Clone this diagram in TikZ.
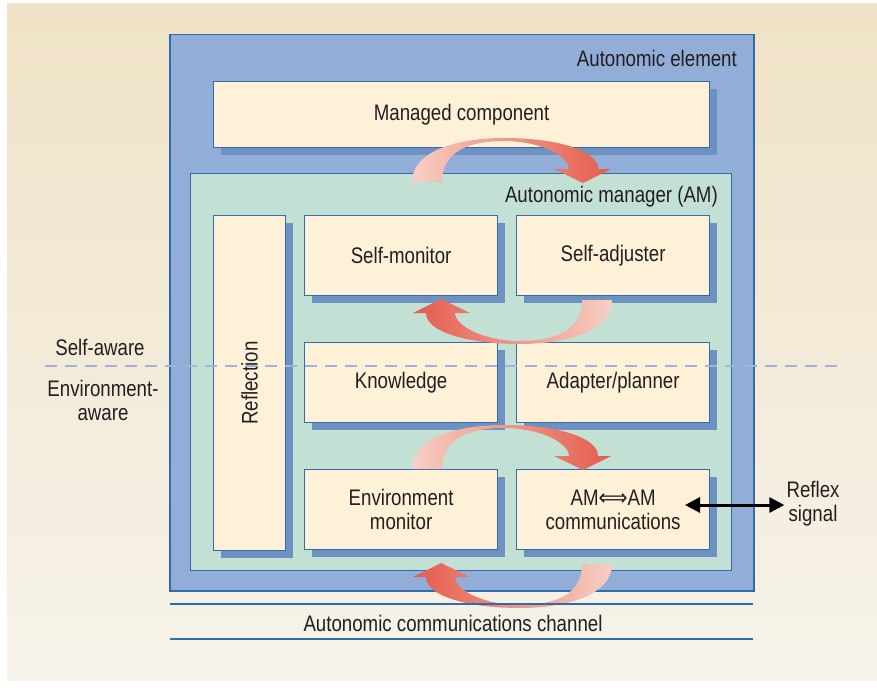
\documentclass[tikz,border=0pt]{standalone}
\usepackage{fontspec}
\setmainfont[FakeStretch=0.83]{Liberation Sans}
\newfontfamily\symfont[FakeStretch=0.9]{DejaVu Sans}
\usetikzlibrary{arrows.meta,shadows}
\definecolor{bgtop}{HTML}{EFE2C6}
\definecolor{bgbot}{HTML}{F7F3EA}
\definecolor{aefill}{HTML}{92ADD7}
\definecolor{edge}{HTML}{2E6DAA}
\definecolor{amfill}{HTML}{C3E0D5}
\definecolor{boxfill}{HTML}{FFF0D8}
\definecolor{shadowc}{HTML}{6D92C1}
\definecolor{txtc}{HTML}{231F20}
\definecolor{dashc}{HTML}{9FB3DB}
\definecolor{arred}{HTML}{E45B4B}
\definecolor{arlight}{HTML}{F7CFC4}
\tikzset{
  txt/.style={text=txtc, font=\fontsize{22.5}{24}\selectfont, inner sep=2pt},
  aebox/.style={draw=edge, line width=1.5pt, fill=aefill, inner sep=0pt, anchor=north west},
  ambox/.style={draw=edge, line width=1.3pt, fill=amfill, inner sep=0pt, anchor=north west},
  cbox/.style={draw=edge, line width=1.2pt, fill=boxfill, inner sep=0pt, anchor=north west,
    drop shadow={shadow xshift=7pt, shadow yshift=-7pt, fill=shadowc, opacity=1},
    minimum width=193pt, minimum height=80pt, align=center, text=txtc,
    font=\fontsize{22.5}{24}\selectfont},
  dashline/.style={draw=dashc, line width=2.6pt, dash pattern=on 12pt off 8pt},
  chanline/.style={draw=edge, line width=1.3pt},
  reflexarrow/.style={line width=3pt, black, {Triangle[length=15pt,width=15pt]}-{Triangle[length=15pt,width=15pt]}},
}
\newcommand{\bigarrowpath}{(412,182) .. controls (412,152) and (455,138) .. (504,138) .. controls (556,138) and (598,150) .. (598,169) -- (611,169) -- (583,183) -- (554,169) -- (569,169) .. controls (569,156) and (540,141) .. (504,141) .. controls (468,141) and (442,152) .. (442,182) -- cycle}
\begin{document}
\begin{tikzpicture}[x=1pt,y=-1pt]
\useasboundingbox (0,0) rectangle (877,690);
\shade[top color=bgtop,bottom color=bgbot] (7,4) rectangle (877,680);
% autonomic element
\node[aebox, minimum width=584pt, minimum height=556pt] (ae) at (169,34) {};
\node[txt, anchor=east] (aelabel) at (739,58) {Autonomic element};
\node[cbox, minimum width=496pt, minimum height=66pt] (mc) at (213,81) {Managed component};
% autonomic manager
\node[ambox, minimum width=541pt, minimum height=397pt] (am) at (190,173) {};
\node[txt, anchor=east] (amlabel) at (720,197) {Autonomic manager (AM)};
\node[cbox, minimum width=72pt, minimum height=335pt] (refl) at (213,215) {};
\node[txt, rotate=90] (refllabel) at (refl.center) {Reflection};
\node[cbox] (sm) at (304,215) {Self-monitor};
\node[cbox] (sa) at (516,215) {Self-adjuster};
\node[cbox] (kn) at (304,342) {Knowledge};
\node[cbox] (ap) at (516,342) {Adapter/planner};
\node[cbox] (em) at (304,469) {Environment\\monitor};
\node[cbox] (co) at (516,469) {AM{\symfont ⟺}AM\\communications};
% big arrows
\shade[left color=arlight, right color=arred] \bigarrowpath;
\begin{scope}[shift={(0,287)}]
\shade[left color=arlight, right color=arred] \bigarrowpath;
\end{scope}
\begin{scope}[rotate around={180:(512,241)}]
\shade[left color=arred, right color=arlight] \bigarrowpath;
\end{scope}
\begin{scope}[rotate around={180:(512,373)}]
\shade[left color=arred, right color=arlight] \bigarrowpath;
\end{scope}
% channel
\coordinate (c1l) at (170,604); \coordinate (c1r) at (753,604);
\coordinate (c2l) at (170,639); \coordinate (c2r) at (753,639);
\draw[chanline] (c1l) -- (c1r);
\draw[chanline] (c2l) -- (c2r);
\node[txt] (chan) at (453,623) {Autonomic communications channel};
% awareness line
\coordinate (dl) at (45,366); \coordinate (dr) at (840,366);
\draw[dashline] (dl) -- (dr);
\node[txt] (selfaware) at (100,347) {Self-aware};
\node[txt, align=center] (envaware) at (103,400) {Environment-\\aware};
% reflex
\node[txt, align=center] (reflex) at (813,504) {Reflex\\signal};
\coordinate (rfs) at (685,505);
\draw[reflexarrow] (rfs) -- (reflex.west |- rfs);
\end{tikzpicture}
\end{document}
